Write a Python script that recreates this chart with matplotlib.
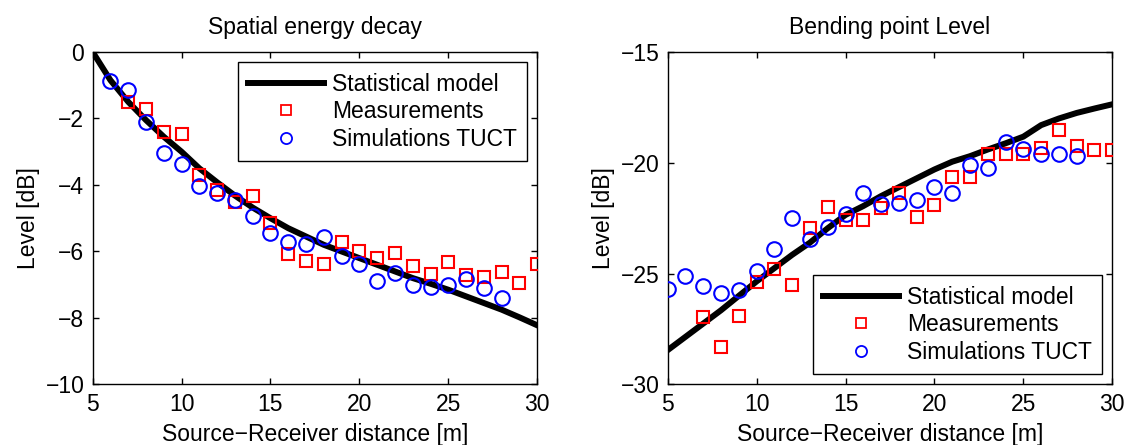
import matplotlib
matplotlib.use("Agg")
import matplotlib.pyplot as plt
from matplotlib.lines import Line2D
import numpy as np

plt.rcParams['font.family'] = ['Liberation Sans', 'DejaVu Sans']
plt.rcParams['font.size'] = 16.5

# distance axis for the model curves
dist = np.arange(5, 31)

# spatial energy decay (left)
decay_model = [0, -0.85, -1.5, -2.05, -2.55, -3.0, -3.5, -3.92, -4.32, -4.68,
               -5.0, -5.3, -5.55, -5.8, -6.0, -6.2, -6.4, -6.6, -6.8, -6.97,
               -7.15, -7.35, -7.55, -7.75, -7.98, -8.22]
decay_meas_x = np.arange(7, 31)
decay_meas = [-1.5, -1.73, -2.4, -2.47, -3.7, -4.15, -4.5, -4.33, -5.13, -6.08,
              -6.3, -6.37, -5.7, -6.0, -6.2, -6.05, -6.45, -6.67, -6.32, -6.7,
              -6.77, -6.62, -6.95, -6.37]
decay_sim_x = np.arange(6, 29)
decay_sim = [-0.88, -1.15, -2.1, -3.05, -3.37, -4.02, -4.23, -4.46, -4.93, -5.45,
             -5.7, -5.77, -5.57, -6.15, -6.38, -6.89, -6.64, -7.0, -7.08, -7.02,
             -6.82, -7.1, -7.4]

# bending point level (right)
bend_model = [-28.45, -27.85, -27.25, -26.65, -26.0, -25.35, -24.75, -24.15, -23.6,
              -22.95, -22.35, -21.95, -21.5, -21.1, -20.7, -20.3, -19.95, -19.7,
              -19.4, -19.12, -18.82, -18.3, -18.0, -17.75, -17.55, -17.36]
bend_meas_x = np.arange(7, 31)
bend_meas = [-26.94, -28.29, -26.91, -25.36, -24.78, -25.5, -22.92, -21.99, -22.58,
             -22.58, -22.05, -21.36, -22.43, -21.9, -20.62, -20.62, -19.6, -19.6,
             -19.6, -19.35, -18.52, -19.22, -19.42, -19.42]
bend_sim_x = np.arange(5, 29)
bend_sim = [-25.69, -25.1, -25.55, -25.86, -25.74, -24.86, -23.9, -22.48, -23.45,
            -22.9, -22.3, -21.36, -21.87, -21.8, -21.7, -21.1, -21.37, -20.1,
            -20.25, -19.07, -19.39, -19.6, -19.6, -19.69]

labels = ["Statistical model", "Measurements", "Simulations TUCT"]

fig = plt.figure(figsize=(11.26, 4.45), dpi=100)
ax1 = fig.add_axes([0.0823, 0.136, 0.3948, 0.7472])
ax2 = fig.add_axes([0.5930, 0.136, 0.3948, 0.7472])


def draw(ax, model, mx, my, sx, sy, title, ylim, yticks, loc):
    ax.plot(dist, model, color="black", lw=4.3, zorder=2)
    ax.plot(mx, my, ls="none", marker="s", ms=9, mfc="none", mec="red", mew=1.5, zorder=3)
    ax.plot(sx, sy, ls="none", marker="o", ms=10.5, mfc="none", mec="blue", mew=1.5, zorder=3)
    ax.set_xlim(5, 30)
    ax.set_ylim(*ylim)
    ax.set_xticks([5, 10, 15, 20, 25, 30])
    ax.set_yticks(yticks)
    ax.tick_params(direction="in", top=True, right=True, length=4, width=1, pad=6)
    for s in ax.spines.values():
        s.set_linewidth(1.0)
    ax.set_title(title, pad=13, fontsize=16.5)
    ax.set_xlabel("Source\u2212Receiver distance [m]", labelpad=5)
    ax.set_ylabel("Level [dB]", labelpad=4)

    # legend proxies with smaller markers, like the original
    handles = [Line2D([], [], color="black", lw=4.3),
               Line2D([], [], ls="none", marker="s", ms=7, mfc="none", mec="red", mew=1.3),
               Line2D([], [], ls="none", marker="o", ms=8, mfc="none", mec="blue", mew=1.3)]
    leg = ax.legend(handles, labels, loc=loc, fancybox=False, framealpha=1,
                    edgecolor="black", handlelength=3.3, handletextpad=0.35,
                    labelspacing=0.2, borderpad=0.45, borderaxespad=0.45)
    leg.get_frame().set_linewidth(1.0)


draw(ax1, decay_model, decay_meas_x, decay_meas, decay_sim_x, decay_sim,
     "Spatial energy decay", (-10, 0), [-10, -8, -6, -4, -2, 0], "upper right")
draw(ax2, bend_model, bend_meas_x, bend_meas, bend_sim_x, bend_sim,
     "Bending point Level", (-30, -15), [-30, -25, -20, -15], "lower right")

fig.savefig("out.png", dpi=100)
